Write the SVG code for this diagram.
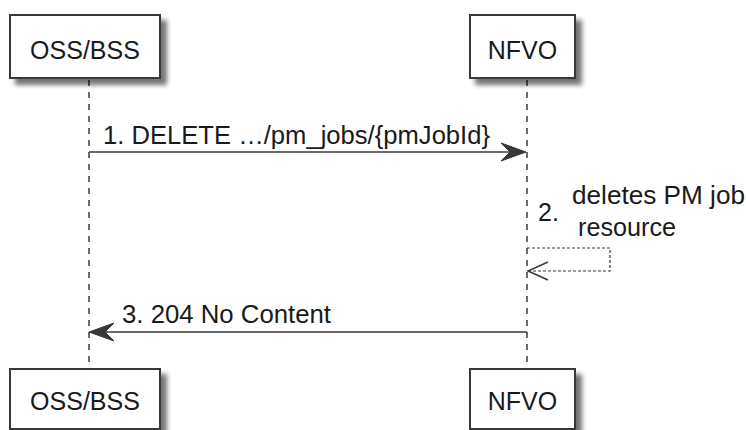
<svg xmlns="http://www.w3.org/2000/svg" width="746" height="430" viewBox="0 0 746 430">
<defs>
<filter id="sh" x="-20%" y="-20%" width="150%" height="160%">
<feGaussianBlur in="SourceAlpha" stdDeviation="2.5"/>
<feOffset dx="6" dy="6" result="b"/>
<feComponentTransfer><feFuncA type="linear" slope="0.55"/></feComponentTransfer>
<feMerge><feMergeNode/><feMergeNode in="SourceGraphic"/></feMerge>
</filter>
</defs>
<style>
.box{fill:#fff;stroke:#383838;stroke-width:2}
.t{font-family:"Liberation Sans",Arial,sans-serif;font-size:25px;fill:#1a1a1a}
.life{stroke:#383838;stroke-width:1.5;stroke-dasharray:6,6;fill:none}
.msg{stroke:#383838;stroke-width:1.5;fill:none}
.dash{stroke:#383838;stroke-width:1.2;stroke-dasharray:3,2;fill:none}
.head{fill:#383838;stroke:#383838;stroke-width:1}
</style>
<g id="connectors">
<line class="life" x1="89" y1="80" x2="89" y2="368"/>
<line class="life" x1="527" y1="80" x2="527" y2="368"/>
<line class="msg" x1="89" y1="152" x2="524" y2="152"/>
<polygon class="head" points="526,152 501,143 510,152 501,161"/>
<text class="t" x="103" y="144" textLength="387" lengthAdjust="spacingAndGlyphs">1. DELETE …/pm_jobs/{pmJobId}</text>
<polyline class="dash" points="527,248 610,248 610,271 528,271"/>
<polyline class="msg" points="548,262 528,271 548,280" stroke-width="1.2"/>
<text class="t" x="538" y="221">2.</text>
<text class="t" x="572" y="204" textLength="173" lengthAdjust="spacingAndGlyphs">deletes PM job</text>
<text class="t" x="578" y="236" textLength="98" lengthAdjust="spacingAndGlyphs">resource</text>
<line class="msg" x1="91" y1="332" x2="527" y2="332"/>
<polygon class="head" points="89,332 114,323 105,332 114,341"/>
<text class="t" x="122" y="323" textLength="209" lengthAdjust="spacingAndGlyphs">3. 204 No Content</text>
</g>
<g id="oss-top">
<rect class="box" x="10" y="15" width="150" height="63" filter="url(#sh)"/>
<text class="t" x="85" y="59" text-anchor="middle">OSS/BSS</text>
</g>
<g id="nfvo-top">
<rect class="box" x="470" y="15" width="105" height="63" filter="url(#sh)"/>
<text class="t" x="522.5" y="59" text-anchor="middle">NFVO</text>
</g>
<g id="oss-bottom">
<rect class="box" x="10" y="369" width="150" height="60" filter="url(#sh)"/>
<text class="t" x="85" y="410" text-anchor="middle">OSS/BSS</text>
</g>
<g id="nfvo-bottom">
<rect class="box" x="470" y="369" width="105" height="60" filter="url(#sh)"/>
<text class="t" x="522.5" y="410" text-anchor="middle">NFVO</text>
</g>
</svg>
